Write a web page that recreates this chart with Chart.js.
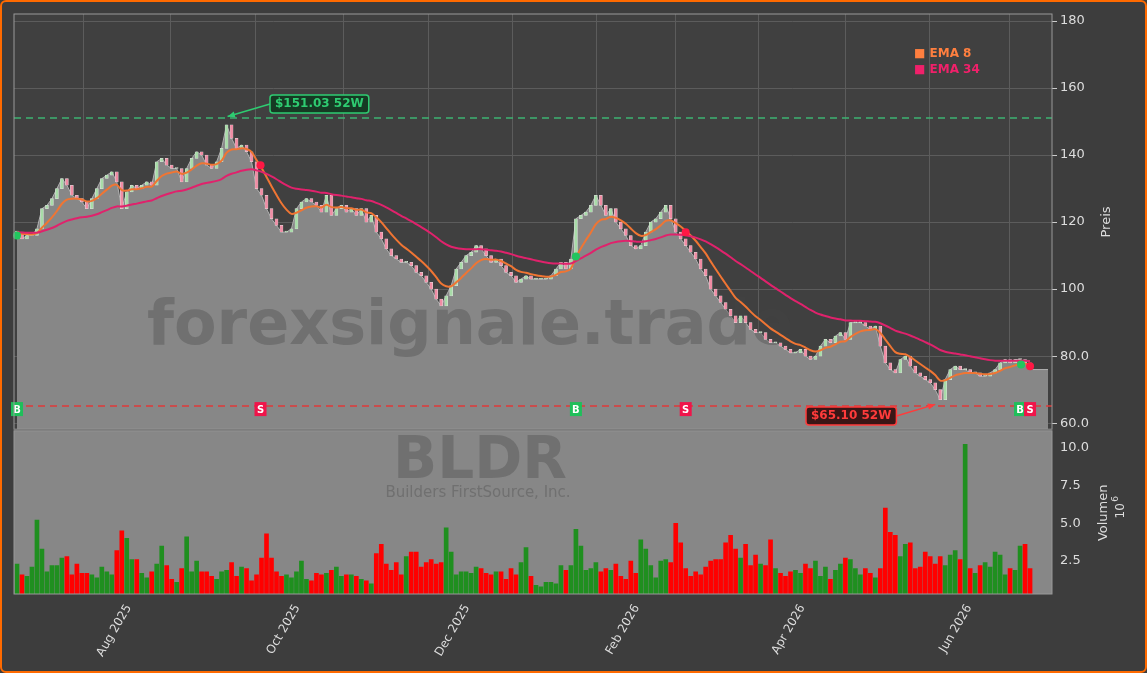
<!DOCTYPE html>
<html>
<head>
<meta charset="utf-8">
<script src="https://cdn.jsdelivr.net/npm/chart.js@4.4.1/dist/chart.umd.min.js"></script>
<style>
  html, body { margin: 0; padding: 0; background: #3d3d3d; }
  #frame { position: relative; width: 1143px; height: 669px; border: 2px solid #ff6a00; border-radius: 6px; overflow: hidden; background: #3d3d3d; }
  canvas { position: absolute; left: -2px; }
  #priceCanvas { top: -2px; }
  #volCanvas { top: 418px; }
</style>
</head>
<body>
<div id="frame">
  <canvas id="volCanvas" width="1147" height="253"></canvas>
  <canvas id="priceCanvas" width="1147" height="440"></canvas>
</div>
<script>
// daily closes (approx), index 0 = ~20 Jun 2025
const closes = [
  117,115,116,116,118,124,125,127,130,133,
  131,128,127,126,124,127,130,133,134,135,
  132,124,129,131,130,131,132,131,138,139,
  137,136,136,132,136,139,141,140,137,136,
  138,142,149,145,142,143,141,138,130,128,
  124,121,119,117,117,118,124,126,127,126,
  125,123,128,122,124,125,123,124,122,124,
  120,122,117,115,112,110,109,108,108,107,
  105,104,102,100,97,95,98,101,106,108,
  110,111,113,112,110,108,109,107,105,104,
  102,103,104,103,103,103,103,104,106,108,
  106,109,121,122,123,125,128,125,122,124,
  120,118,116,113,112,113,117,120,121,123,
  125,121,117,115,113,111,109,106,104,100,
  98,96,94,92,90,92,90,88,87,87,
  85,84,84,83,82,81,81,82,80,79,
  80,83,85,84,86,87,85,90,90,90,
  89,88,89,83,78,76,75,79,80,77,
  75,74,73,72,70,67,73,76,77,76,
  76,75,75,74,74,75,76,78,79,78,
  79,79,78,77
];
// grey area continues flat past the last candle
const areaTail = [{ x: 203.6, y: 76 }, { x: 206.6, y: 76 }];
// volume in millions
const volumes = [
  2.3,1.6,1.5,2.1,5.2,3.3,1.8,2.2,2.2,2.7,
  2.8,1.6,2.3,1.7,1.7,1.6,1.4,2.1,1.8,1.6,
  3.2,4.5,4.0,2.6,2.6,1.7,1.4,1.8,2.3,3.5,
  2.2,1.3,1.1,2.0,4.1,1.8,2.5,1.8,1.8,1.5,
  1.3,1.8,1.9,2.4,1.5,2.1,2.0,1.2,1.6,2.7,
  4.3,2.7,1.8,1.5,1.6,1.4,1.8,2.5,1.3,1.2,
  1.7,1.6,1.7,1.9,2.1,1.5,1.6,1.6,1.5,1.3,
  1.2,1.0,3.0,3.6,2.3,1.9,2.4,1.6,2.8,3.1,
  3.1,2.1,2.4,2.6,2.3,2.4,4.7,3.1,1.6,1.8,
  1.8,1.7,2.1,2.0,1.7,1.6,1.8,1.8,1.3,2.0,
  1.6,2.4,3.4,1.5,0.9,0.8,1.1,1.1,1.0,2.2,
  1.9,2.2,4.6,3.5,1.9,2.0,2.4,1.8,2.0,1.9,
  2.3,1.5,1.3,2.5,1.7,3.9,3.3,2.2,1.4,2.5,
  2.6,2.4,5.0,3.7,2.0,1.5,1.8,1.6,2.1,2.5,
  2.6,2.6,3.7,4.2,3.3,2.7,3.6,2.2,2.9,2.3,
  2.2,3.9,2.0,1.7,1.5,1.8,1.9,1.7,2.3,2.0,
  2.5,1.5,2.1,1.3,1.9,2.3,2.7,2.6,2.0,1.6,
  2.0,1.7,1.4,2.0,6.0,4.4,4.2,2.8,3.6,3.7,
  2.0,2.1,3.1,2.8,2.3,2.8,2.2,2.9,3.2,2.6,
  10.2,2.0,1.7,2.2,2.4,2.1,3.1,2.9,1.6,2.0,
  1.9,3.5,3.6,2.0
];
// month ticks (position on the candle index axis)
const monthPos = [4.4, 22.4, 39.2, 56.2, 74.8, 90.2, 108.2, 124.2, 139.6, 157.4, 174.8, 190.8];
const monthLabels = ['', 'Aug 2025', '', 'Oct 2025', '', 'Dec 2025', '', 'Feb 2026', '', 'Apr 2026', '', 'Jun 2026'];
const priceTicks = [60, 80, 100, 120, 140, 160, 180];
const volTicks = [2.5, 5.0, 7.5, 10.0];
const high52 = 151.03, low52 = 65.10;
const buySignals = [0, 112, 201];
const sellSignals = [48.8, 134, 203];

const X_MIN = -0.6, X_MAX = 207.4;
const TICK_COLOR = '#dddddd';
const GRID = '#5c5c5c';

function ema(values, n) {
    const k = 2 / (n + 1);
    let out = [], prev = values[0];
    values.forEach(v => { prev = v * k + prev * (1 - k); out.push(prev); });
    return out;
}

const ema8 = ema(closes, 8);
const ema34 = ema(closes, 34);
const opens = closes.map((c, i) => i === 0 ? c : closes[i - 1]);
const candleData = closes.map((c, i) => ({ x: i, y: [opens[i], c === opens[i] ? c + 0.3 : c] }));
const candleColors = closes.map((c, i) => c >= opens[i] ? '#a8dca8' : '#f08ca4');

function xScaleBase(display) {
    return {
        type: 'linear', min: X_MIN, max: X_MAX, offset: false,
        afterBuildTicks: ax => { ax.ticks = monthPos.map(v => ({ value: v })); },
        grid: { color: GRID, drawTicks: display, tickLength: 5, tickColor: '#cccccc' },
        border: { display: false },
        ticks: {
            display: display, color: TICK_COLOR, maxRotation: 60, minRotation: 60, autoSkip: false,
            font: { family: 'DejaVu Sans', size: 12 },
            callback: (v, i) => monthLabels[i]
        }
    };
}

const priceOverlay = {
    id: 'priceOverlay',
    beforeDraw(chart) {
        const { ctx, chartArea: a } = chart;
        ctx.save();
        ctx.fillStyle = '#404040';
        ctx.fillRect(a.left, a.top, a.right - a.left, a.bottom - a.top);
        ctx.restore();
    },
    afterDatasetDraw(chart, args) {
        if (args.index !== 0) return;
        const { ctx } = chart;
        ctx.save();
        ctx.fillStyle = 'rgba(70,70,70,0.35)';
        ctx.font = 'bold 62px "DejaVu Sans"';
        ctx.textAlign = 'center';
        ctx.textBaseline = 'middle';
        ctx.fillText('forexsignale.trade', 470, 328);
        ctx.restore();
    },
    afterDatasetsDraw(chart) {
        const { ctx, chartArea: a, scales: { x, y } } = chart;
        ctx.save();
        // 52 week lines
        ctx.setLineDash([7, 5]);
        ctx.lineWidth = 1.5;
        ctx.strokeStyle = '#3cb371';
        ctx.beginPath(); ctx.moveTo(a.left, y.getPixelForValue(high52)); ctx.lineTo(a.right, y.getPixelForValue(high52)); ctx.stroke();
        ctx.strokeStyle = '#e03a3a';
        ctx.beginPath(); ctx.moveTo(a.left, y.getPixelForValue(low52)); ctx.lineTo(a.right, y.getPixelForValue(low52)); ctx.stroke();
        ctx.setLineDash([]);

        // crossing dots
        const dot = (i, v, c) => { ctx.fillStyle = c; ctx.beginPath(); ctx.arc(x.getPixelForValue(i), y.getPixelForValue(v), 4, 0, Math.PI * 2); ctx.fill(); };
        dot(0, 116, '#22c55e'); dot(48.8, 137, '#ff1744'); dot(112, 109.7, '#22c55e');
        dot(134, 117, '#ff1744'); dot(201.2, 77.5, '#22c55e'); dot(203, 77, '#ff1744');

        // labels with arrows
        function tag(text, bx, by, color, bg, tx, ty) {
            ctx.font = 'bold 12px "DejaVu Sans"';
            const w = ctx.measureText(text).width + 10;
            ctx.strokeStyle = color; ctx.lineWidth = 1.5;
            ctx.beginPath();
            ctx.moveTo(bx + (tx > bx ? w : 0), by);
            ctx.lineTo(tx, ty);
            ctx.stroke();
            const ang = Math.atan2(ty - by, tx - (bx + (tx > bx ? w : 0)));
            ctx.fillStyle = color;
            ctx.beginPath();
            ctx.moveTo(tx, ty);
            ctx.lineTo(tx - 8 * Math.cos(ang - 0.4), ty - 8 * Math.sin(ang - 0.4));
            ctx.lineTo(tx - 8 * Math.cos(ang + 0.4), ty - 8 * Math.sin(ang + 0.4));
            ctx.fill();
            ctx.fillStyle = bg;
            ctx.beginPath(); ctx.roundRect(bx, by - 9, w, 18, 3); ctx.fill(); ctx.stroke();
            ctx.fillStyle = color; ctx.textBaseline = 'middle'; ctx.textAlign = 'left';
            ctx.fillText(text, bx + 5, by);
        }
        tag('$151.03 52W', 270, 104, '#2ecc71', '#163a24', x.getPixelForValue(42.2), y.getPixelForValue(151.5));
        tag('$65.10 52W', 806, 416, '#ff3b3b', '#3a1616', x.getPixelForValue(184), y.getPixelForValue(65.6));

        // B / S markers
        ctx.font = 'bold 10px "DejaVu Sans"';
        ctx.textAlign = 'center'; ctx.textBaseline = 'middle';
        const mk = (i, t, c) => {
            const px = x.getPixelForValue(i), py = y.getPixelForValue(64.2);
            ctx.fillStyle = c; ctx.fillRect(px - 6, py - 7, 12, 14);
            ctx.fillStyle = '#ffffff'; ctx.fillText(t, px, py + 1);
        };
        buySignals.forEach(i => mk(i, 'B', '#1fbf5a'));
        sellSignals.forEach(i => mk(i, 'S', '#f0144a'));

        // legend
        ctx.font = 'bold 12px "DejaVu Sans"';
        ctx.textAlign = 'left';
        ctx.fillStyle = '#ff7f3f'; ctx.fillText('■ EMA 8', 914, 54);
        ctx.fillStyle = '#f0206a'; ctx.fillText('■ EMA 34', 914, 70);

        // frame
        ctx.strokeStyle = '#999999'; ctx.lineWidth = 1;
        ctx.strokeRect(a.left, a.top, a.right - a.left, a.bottom - a.top);

        // axis title
        ctx.translate(1107, 222); ctx.rotate(-Math.PI / 2);
        ctx.font = '13px "DejaVu Sans"'; ctx.fillStyle = TICK_COLOR; ctx.textAlign = 'center';
        ctx.fillText('Preis', 0, 0);
        ctx.restore();
    }
};

new Chart(document.getElementById('priceCanvas'), {
    data: {
        datasets: [
            { type: 'line', data: closes.map((c, i) => ({ x: i, y: c })).concat(areaTail), borderColor: '#b0b0b0', borderWidth: 1,
              backgroundColor: '#878787', fill: 'start', pointRadius: 0, tension: 0, order: 4 },
            { type: 'bar', data: candleData, backgroundColor: candleColors, borderColor: '#e0e0e0', borderWidth: 0.5,
              borderSkipped: false, barThickness: 3, order: 3 },
            { type: 'line', data: ema8.map((v, i) => ({ x: i, y: v })), borderColor: '#f07533', borderWidth: 2,
              pointRadius: 0, tension: 0.3, fill: false, order: 2 },
            { type: 'line', data: ema34.map((v, i) => ({ x: i, y: v })), borderColor: '#e0226c', borderWidth: 2,
              pointRadius: 0, tension: 0.3, fill: false, order: 1 }
        ]
    },
    options: {
        responsive: false, animation: false,
        layout: { padding: { top: 14, left: 14, bottom: 0, right: 0 } },
        plugins: { legend: { display: false }, tooltip: { enabled: false } },
        scales: {
            x: Object.assign(xScaleBase(false), { afterFit: ax => { ax.height = 0; } }),
            y: {
                position: 'right', min: 58.2, max: 182.1,
                afterBuildTicks: ax => { ax.ticks = priceTicks.map(v => ({ value: v })); },
                afterFit: ax => { ax.width = 95; },
                grid: { color: GRID, tickLength: 5, tickColor: '#cccccc' },
                border: { display: false },
                ticks: { color: TICK_COLOR, font: { family: 'DejaVu Sans', size: 13 },
                         callback: v => v < 100 ? v.toFixed(1) : String(v) }
            }
        }
    },
    plugins: [priceOverlay]
});

const volOverlay = {
    id: 'volOverlay',
    beforeDatasetsDraw(chart) {
        const { ctx, chartArea: a } = chart;
        ctx.save();
        ctx.fillStyle = '#878787';
        ctx.fillRect(a.left, a.top, a.right - a.left, a.bottom - a.top);
        ctx.fillStyle = 'rgba(70,70,70,0.35)';
        ctx.textAlign = 'center'; ctx.textBaseline = 'middle';
        ctx.font = 'bold 58px "DejaVu Sans"';
        ctx.fillText('BLDR', 480, a.top + 32);
        ctx.font = '15px "DejaVu Sans"';
        ctx.fillText('Builders FirstSource, Inc.', 478, a.top + 62);
        ctx.restore();
    },
    afterDatasetsDraw(chart) {
        const { ctx, chartArea: a } = chart;
        ctx.save();
        ctx.strokeStyle = '#999999'; ctx.lineWidth = 1;
        ctx.strokeRect(a.left, a.top, a.right - a.left, a.bottom - a.top);
        ctx.fillStyle = TICK_COLOR; ctx.font = '13px "DejaVu Sans"'; ctx.textAlign = 'center';
        ctx.translate(1107, a.top + 82); ctx.rotate(-Math.PI / 2);
        ctx.fillText('Volumen', 0, 0);
        ctx.font = '12px "DejaVu Sans"';
        ctx.fillText('10', 2, 17);
        ctx.font = '9px "DejaVu Sans"';
        ctx.fillText('6', 14, 11);
        ctx.restore();
    }
};

new Chart(document.getElementById('volCanvas'), {
    type: 'bar',
    data: {
        datasets: [{
            data: volumes.map((v, i) => ({ x: i, y: v })),
            backgroundColor: closes.map((c, i) => c >= opens[i] ? '#1f8f1f' : '#ff0000'),
            barThickness: 4, borderWidth: 0
        }]
    },
    options: {
        responsive: false, animation: false,
        layout: { padding: { top: 0, left: 14, bottom: 0, right: 0 } },
        plugins: { legend: { display: false }, tooltip: { enabled: false } },
        scales: {
            x: Object.assign(xScaleBase(true), {
                afterFit: ax => { ax.height = 79; },
                grid: { display: false, drawTicks: true, tickLength: 5, tickColor: '#dddddd' }
            }),
            y: {
                position: 'right', min: 0.33, max: 11.1,
                afterBuildTicks: ax => { ax.ticks = volTicks.map(v => ({ value: v })); },
                afterFit: ax => { ax.width = 95; },
                grid: { display: false, drawTicks: true, tickLength: 5, tickColor: '#cccccc' },
                border: { display: false },
                ticks: { color: TICK_COLOR, font: { family: 'DejaVu Sans', size: 13 },
                         callback: v => v.toFixed(1) }
            }
        }
    },
    plugins: [volOverlay]
});
</script>
</body>
</html>
